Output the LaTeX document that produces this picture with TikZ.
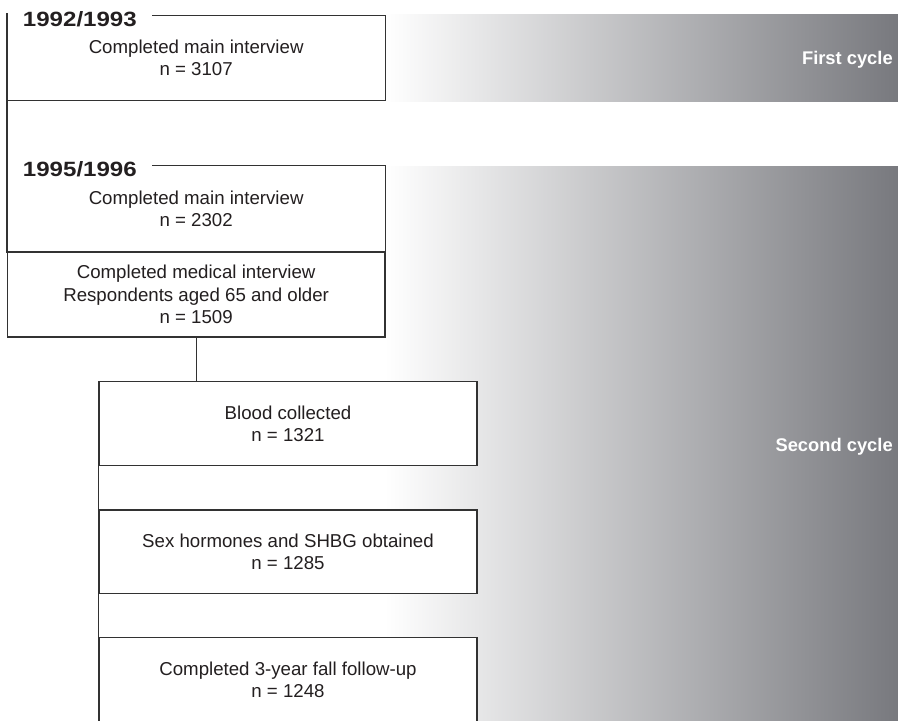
\documentclass[tikz,border=0pt]{standalone}
\usepackage{fontspec}
\setmainfont{Liberation Sans}
\definecolor{bandgray}{RGB}{120,121,126}
\definecolor{linegray}{RGB}{50,50,50}
\definecolor{txt}{RGB}{35,31,32}
\begin{document}
\begin{tikzpicture}[x=0.75pt,y=-0.75pt,
  boxst/.style={draw=none, fill=white, minimum width=283.3pt, inner sep=0pt, align=center,
    font=\fontsize{14}{16.8}\selectfont, text=txt},
  framed/.style={boxst, draw=linegray, line width=0.85pt},
  lowbox/.style={framed, minimum width=283.5pt},
  edge/.style={draw=linegray, line width=0.85pt},
  titlest/.style={anchor=base west, inner sep=0pt, text=txt,
    font=\fontsize{15.5}{18}\selectfont\bfseries},
  cyclest/.style={anchor=base east, inner sep=0pt, text=white,
    font=\fontsize{13.75}{16}\selectfont\bfseries}]
\useasboundingbox (0,0) rectangle (898,720);
\clip (0,0) rectangle (898,720);

% gradient bands
\shade[left color=white, right color=bandgray] (385,15) rectangle (898,101.5);
\shade[left color=white, right color=bandgray] (385,166.5) rectangle (898,720);

% first cycle
\node[boxst, minimum height=63.4pt] (b1) at (196.15,57.75)
  {Completed main interview\\n = 3107};
\node[titlest] (t1) at (22.7,26.9) {\scalebox{1.165}[1]{1992/1993}};
\coordinate (top1) at ([yshift=1.9pt]b1.north west);
\draw[edge] ([xshift=11.25pt]t1.east |- b1.north) -- (b1.north east) -- (b1.south east)
  -- (b1.south west) -- (b1.north west) -- (top1);

% second cycle
\node[boxst, minimum height=64.9pt] (b2a) at (196.15,208.75)
  {Completed main interview\\n = 2302};
\node[titlest] (t2) at (22.7,176.9) {\scalebox{1.165}[1]{1995/1996}};
\draw[edge] ([xshift=11.25pt]t2.east |- b2a.north) -- (b2a.north east) -- (b2a.south east)
  -- (b2a.south west) -- (b2a.north west);
\draw[edge] (b1.south west) -- (b2a.north west);

\node[framed, minimum height=63.75pt] (b2b) at (196.15,294.5)
  {Completed medical interview\\Respondents aged 65 and older\\n = 1509};

\node[lowbox, minimum height=63pt] (b3) at (288,423.7)
  {Blood collected\\n = 1321};
\node[lowbox, minimum height=62.5pt] (b4) at (288,551.7)
  {Sex hormones and SHBG obtained\\n = 1285};
\node[lowbox, minimum height=63pt] (b5) at (288,679.7)
  {Completed 3-year fall follow-up\\n = 1248};

\draw[edge] (b2b.south) -- (b2b.south |- b3.north);
\draw[edge] (b3.south west) -- (b4.north west);
\draw[edge] (b4.south west) -- (b5.north west);

% cycle labels
\node[cyclest] (c1) at (893,64.3) {First cycle};
\node[cyclest] (c2) at (893,451.7) {Second cycle};
\end{tikzpicture}
\end{document}
